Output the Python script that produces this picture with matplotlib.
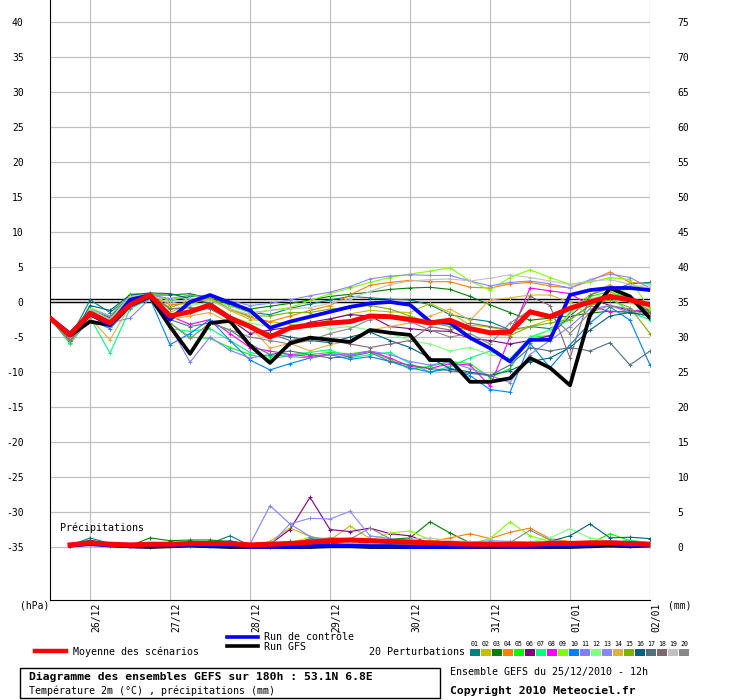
import numpy as np
import matplotlib
matplotlib.use('Agg')
import matplotlib.pyplot as plt
from matplotlib.lines import Line2D
from matplotlib.patches import Rectangle
from matplotlib.transforms import ScaledTranslation

# ---- data -------------------------------------------------------------
hours = np.arange(0, 181, 6)          # 25/12/2010 12h + 0..180h
phours = hours[1:]                    # precip steps

date_ticks = [12, 36, 60, 84, 108, 132, 156, 180]
date_labels = ['26/12', '27/12', '28/12', '29/12', '30/12', '31/12', '01/01', '02/01']

pert_colors = ['#008080', '#c0c000', '#008000', '#ff8000', '#00ff00', '#800080', '#00ff80',
               '#ff00ff', '#80ff00', '#0080ff', '#8080ff', '#80ff80', '#8888ff', '#e0b040',
               '#80b000', '#006080', '#507080', '#806870', '#c0c0c0', '#888888']

t_mean = [-2.3, -4.7, -1.6, -3.0, -0.4, 1.0, -2.0, -1.4, -0.4, -2.3, -3.5, -5.0, -3.7, -3.3, -3.0, -2.8,
          -2.0, -2.1, -2.5, -3.0, -2.6, -3.8, -4.4, -4.3, -1.4, -2.1, -0.9, 0.0, 0.8, 0.3, -0.4]
t_ctrl = [-2.3, -4.5, -1.7, -3.3, 0.3, 1.0, -2.5, 0.0, 1.0, -0.1, -1.2, -3.7, -2.8, -2.1, -1.4, -0.7,
          -0.2, 0.0, -0.4, -2.8, -3.0, -5.1, -6.6, -8.5, -5.4, -5.4, 1.0, 1.7, 2.0, 2.0, 1.7]
t_gfs = [-2.3, -4.8, -2.8, -3.3, -0.5, 0.8, -3.5, -7.4, -3.0, -2.7, -6.2, -8.7, -5.9, -5.1, -5.4, -5.7,
         -4.0, -4.4, -4.7, -8.3, -8.3, -11.4, -11.4, -10.9, -8.0, -9.4, -11.9, -1.9, 2.0, 0.8, -2.3]

t_p01 = [-2.3, -5.2, 0.3, -1.5, 0.8, 1.2, 0.2, 0.8, 0.9, -0.5, -1.5, -1.8, -0.9, -0.3, 0.3, 0.8,
         0.6, 0.4, 0.3, -0.4, -1.8, -2.4, -2.8, -4.0, -3.5, -3.8, -2.5, -0.5, 1.5, 2.6, 2.8]
t_p02 = [-2.3, -5.5, -1.8, -3.0, 0.2, 0.9, -1.5, -0.2, 0.4, -1.2, -2.5, -2.8, -3.2, -3.5, -2.5, -1.7,
         -1.2, -1.4, -1.5, -0.2, -1.5, -3.3, -3.6, -4.2, -3.5, -2.5, -1.0, 1.0, 2.5, 0.5, -2.3]
t_p03 = [-2.3, -5.0, -1.2, -2.2, 1.0, 1.0, 1.0, 1.2, 0.5, -0.3, -1.0, -0.6, -0.2, 0.3, 0.8, 1.1,
         1.4, 1.8, 2.0, 2.1, 1.8, 0.8, -0.4, -1.5, -2.6, -2.3, -2.0, -1.6, -1.3, -1.5, -1.2]
t_p04 = [-2.3, -5.3, -1.5, -2.5, 0.6, 1.1, -0.4, -0.2, 0.5, -1.0, -2.2, -2.8, -2.0, -1.2, -0.5, 1.0,
         2.4, 2.8, 3.1, 2.9, 2.9, 2.1, 2.0, 2.6, 2.8, 2.3, 2.0, 3.0, 4.3, 2.8, 2.6]
t_p05 = [-2.3, -5.6, -2.0, -3.2, -0.2, 0.8, -3.0, -5.0, -5.2, -6.5, -7.5, -8.2, -7.6, -7.5, -7.2, -7.4,
         -7.0, -8.2, -9.6, -9.2, -8.5, -8.8, -10.8, -9.5, -5.0, -4.8, -1.5, 0.8, 1.5, 0.5, -1.2]
t_p06 = [-2.3, -5.3, -1.8, -2.8, 0.5, 0.9, -1.8, -1.5, -0.8, -2.5, -4.5, -4.0, -3.6, -2.9, -2.4, -1.8,
         -2.0, -3.5, -3.8, -4.1, -4.2, -5.2, -5.5, -6.0, -5.5, -4.8, -2.0, 0.5, -0.5, -1.2, -1.5]
t_p07 = [-2.3, -6.0, -2.2, -7.3, -1.0, 0.5, -3.8, -4.2, -3.8, -5.5, -7.2, -7.8, -7.5, -7.2, -6.8, -8.0,
         -7.5, -7.2, -8.8, -10.0, -9.2, -8.0, -7.0, -8.2, -5.0, -4.0, -2.5, -0.5, 0.8, -1.5, -2.5]
t_p08 = [-2.3, -5.5, -2.0, -3.0, 0.3, 0.8, -2.0, -3.2, -2.5, -4.5, -6.5, -7.0, -7.5, -7.8, -7.4, -7.6,
         -7.0, -8.0, -9.2, -9.5, -8.8, -9.0, -12.0, -5.0, 2.0, 1.6, 1.2, -0.5, -1.4, -1.3, -1.0]
t_p09 = [-2.3, -5.0, -0.8, -2.0, 1.2, 1.2, 0.2, 1.0, 0.4, -0.6, -1.5, -1.2, -0.8, 0.2, 1.2, 2.0,
         2.8, 3.5, 4.0, 4.4, 4.9, 3.0, 1.7, 3.5, 4.6, 3.5, 2.5, 2.8, 3.5, 3.2, -1.0]
t_p10 = [-2.3, -5.8, -2.5, -3.8, -0.8, 0.5, -6.1, -4.5, -2.5, -5.5, -8.3, -9.7, -8.8, -8.0, -7.5, -8.2,
         -7.8, -8.5, -9.4, -10.0, -9.5, -10.5, -12.5, -12.9, -5.9, -9.4, -6.1, -3.0, -0.7, -2.6, -9.0]
t_p11 = [-2.3, -5.5, -1.5, -3.0, -2.3, 0.5, -3.5, -8.6, -5.0, -6.9, -8.0, -7.5, -7.8, -8.0, -7.5, -7.6,
         -7.0, -7.5, -8.5, -9.0, -8.6, -9.5, -10.5, -11.5, -7.5, -5.5, -3.5, -1.0, -0.5, -1.5, -2.0]
t_p12 = [-2.3, -5.0, -1.0, -2.6, 0.9, 1.1, -1.0, -0.5, 0.0, -2.0, -3.0, -3.5, -2.8, -3.2, -3.8, -3.5,
         -4.0, -4.5, -5.5, -6.0, -7.0, -6.5, -7.5, -8.0, -5.3, -4.0, -1.8, 0.5, 1.0, 2.0, 2.5]
t_p13 = [-2.3, -4.8, -1.0, -2.0, 0.8, 1.0, 0.5, 1.0, 0.6, 0.2, -0.5, -0.2, 0.3, 0.9, 1.4, 2.2,
         3.3, 3.7, 3.9, 3.8, 3.8, 3.0, 2.3, 2.8, 3.0, 2.6, 2.0, 3.2, 4.0, 3.5, 2.0]
t_p14 = [-2.3, -5.8, -2.3, -5.4, -0.5, 0.7, -2.5, -2.0, -1.5, -3.0, -3.5, -6.6, -5.9, -7.0, -6.1, -5.5,
         -4.0, -3.5, -3.0, -2.0, -1.0, -2.6, 0.3, 0.6, 1.0, 1.0, 0.0, -2.0, 1.5, 0.0, -1.5]
t_p15 = [-2.3, -5.2, -1.2, -2.4, 0.7, 1.0, -0.8, 0.2, 0.6, -1.0, -2.0, -2.0, -1.5, -1.5, -1.0, -0.8,
         -0.5, -1.0, -2.0, -3.0, -3.5, -4.0, -4.5, -4.8, -3.5, -3.0, -2.5, -0.5, 0.3, -0.8, -4.5]
t_p16 = [-2.3, -5.5, -0.5, -1.2, 1.0, 1.3, 1.2, 0.5, -0.2, -2.0, -3.5, -4.5, -5.0, -5.5, -5.8, -5.0,
         -4.3, -5.5, -6.5, -8.0, -9.5, -10.0, -10.5, -9.8, -8.5, -8.0, -6.5, -4.0, -2.0, -1.5, -2.0]
t_p17 = [-2.3, -5.6, -2.0, -3.2, 0.0, 0.8, -2.5, -3.5, -3.0, -4.0, -6.0, -7.5, -7.0, -7.5, -8.0, -7.8,
         -7.2, -8.5, -9.0, -9.5, -9.8, -10.2, -10.5, -9.0, -6.5, -7.0, -6.5, -7.0, -5.8, -9.0, -7.0]
t_p18 = [-2.3, -5.4, -1.6, -2.8, 0.4, 1.0, -1.0, -0.8, -1.0, -2.5, -3.5, -4.5, -5.5, -5.0, -5.5, -6.0,
         -6.5, -6.0, -5.5, -3.5, -4.0, -3.0, -3.5, -4.0, 0.8, -0.5, -8.0, 1.0, 2.0, 0.5, -1.5]
t_p19 = [-2.3, -5.0, -1.0, -2.5, 0.8, 1.1, -0.2, 0.5, 0.2, -1.0, -1.8, -1.2, -1.0, -0.8, -0.2, 0.5,
         1.5, 2.5, 3.0, 3.2, 3.3, 3.0, 3.4, 3.9, 3.5, 3.0, 2.5, 3.0, 3.2, 2.5, 2.0]
t_p20 = [-2.3, -5.5, -1.8, -3.5, 0.0, 0.8, -3.0, -5.2, -3.0, -4.0, -5.0, -5.5, -6.0, -5.5, -4.5, -3.8,
         -2.5, -2.0, -2.8, -4.0, -5.0, -4.5, -6.0, -3.0, -1.2, -1.8, -4.5, -1.5, -0.5, -1.0, -2.0]

# precipitation (mm), 6-hourly, from +6h to +180h
p_mean = [0.3, 0.6, 0.4, 0.3, 0.4, 0.4, 0.5, 0.5, 0.5, 0.3, 0.4, 0.5, 0.7, 0.9, 1.0, 0.9,
          0.8, 0.7, 0.6, 0.5, 0.4, 0.4, 0.4, 0.4, 0.5, 0.5, 0.6, 0.6, 0.5, 0.4]
p_ctrl = [0.2, 0.4, 0.2, 0.1, 0.1, 0.2, 0.3, 0.2, 0.2, 0.0, 0.0, 0.0, 0.1, 0.2, 0.2, 0.1,
          0.1, 0.0, 0.0, 0.0, 0.0, 0.1, 0.0, 0.0, 0.1, 0.1, 0.3, 0.4, 0.2, 0.3]
p_gfs = [0.2, 0.5, 0.3, 0.1, 0.0, 0.1, 0.2, 0.1, 0.0, 0.0, 0.0, 0.0, 0.0, 0.1, 0.1, 0.0,
         0.0, 0.0, 0.0, 0.0, 0.0, 0.0, 0.0, 0.0, 0.0, 0.0, 0.1, 0.2, 0.1, 0.2]

p_p01 = [0.2, 1.3, 0.5, 0.2, 0.1, 0.5, 0.6, 0.5, 1.6, 0.2, 0.1, 0.3, 1.2, 1.0, 0.8, 0.9,
         0.7, 0.5, 0.3, 0.2, 0.3, 0.2, 0.1, 0.2, 0.3, 0.2, 0.5, 0.6, 0.8, 0.6]
p_p02 = [0.2, 0.5, 0.3, 0.1, 0.2, 0.3, 0.2, 0.3, 0.2, 0.1, 0.8, 2.7, 1.5, 1.0, 3.0, 1.2,
         0.5, 0.3, 0.2, 0.1, 0.2, 0.4, 0.3, 0.2, 0.5, 0.3, 0.8, 0.6, 0.3, 0.2]
p_p03 = [0.2, 0.4, 0.3, 0.2, 1.3, 0.9, 1.0, 1.0, 0.8, 0.2, 0.3, 0.8, 0.6, 0.8, 0.7, 1.0,
         1.1, 1.3, 3.6, 2.0, 0.6, 0.2, 0.1, 0.2, 0.3, 0.2, 0.4, 0.3, 0.5, 0.4]
p_p04 = [0.2, 0.6, 0.3, 0.1, 0.1, 0.4, 0.4, 0.3, 0.4, 0.1, 0.1, 0.3, 0.6, 0.5, 0.4, 0.3,
         0.6, 0.5, 0.8, 1.3, 1.9, 1.2, 2.1, 2.7, 1.2, 0.8, 0.4, 0.3, 0.2, 0.3]
p_p05 = [0.2, 0.5, 0.2, 0.1, 0.2, 0.3, 0.3, 0.4, 0.3, 0.0, 0.1, 0.3, 0.7, 1.3, 1.2, 0.6,
         0.5, 0.4, 0.4, 0.3, 0.2, 0.3, 0.2, 0.3, 0.4, 0.6, 0.5, 1.9, 0.9, 0.5]
p_p06 = [0.2, 0.5, 0.3, 0.1, 0.1, 0.3, 0.4, 0.5, 0.3, 0.0, 0.4, 2.5, 7.1, 2.5, 2.2, 2.7,
         1.9, 1.6, 0.5, 0.3, 0.2, 0.2, 0.3, 0.2, 0.3, 0.2, 0.4, 0.3, 0.2, 0.3]
p_p07 = [0.2, 0.4, 0.2, 0.1, 0.1, 0.2, 0.3, 0.4, 0.4, 0.1, 0.2, 0.5, 0.9, 0.8, 0.6, 0.7,
         0.9, 0.8, 0.5, 0.3, 0.2, 0.2, 0.3, 0.4, 0.3, 0.5, 0.4, 0.5, 1.0, 0.6]
p_p08 = [0.2, 0.5, 0.3, 0.2, 0.2, 0.4, 0.3, 0.5, 0.7, 0.1, 0.2, 0.4, 0.8, 0.6, 0.7, 0.5,
         0.4, 0.3, 0.2, 0.2, 0.6, 0.5, 0.3, 0.2, 0.3, 0.3, 0.2, 0.4, 0.3, 0.2]
p_p09 = [0.2, 0.4, 0.2, 0.1, 0.3, 0.4, 0.3, 0.4, 0.3, 0.0, 0.1, 0.6, 1.4, 1.2, 1.1, 1.0,
         2.0, 2.3, 1.0, 0.5, 0.4, 1.2, 3.6, 1.6, 0.8, 0.4, 0.3, 0.5, 0.4, 0.3]
p_p10 = [0.2, 0.3, 0.2, 0.1, 0.1, 0.2, 0.2, 0.2, 0.1, 0.0, 0.1, 0.2, 0.5, 0.4, 0.3, 0.2,
         0.2, 0.1, 0.1, 0.1, 0.1, 0.2, 0.1, 0.1, 0.3, 0.4, 0.5, 0.4, 0.3, 0.6]
p_p11 = [0.2, 0.4, 0.2, 0.1, 0.1, 0.3, 0.4, 0.3, 0.3, 0.4, 5.9, 3.3, 1.5, 0.8, 0.6, 0.5,
         0.4, 0.3, 0.3, 0.2, 0.2, 0.3, 0.4, 0.3, 0.2, 0.3, 0.5, 0.4, 0.6, 0.5]
p_p12 = [0.2, 0.5, 0.3, 0.1, 0.2, 0.3, 0.4, 0.3, 0.3, 0.1, 0.2, 0.5, 0.6, 0.8, 0.7, 0.6,
         0.5, 0.4, 0.3, 0.3, 0.2, 0.3, 0.4, 0.7, 1.3, 2.6, 1.3, 0.8, 0.5, 0.4]
p_p13 = [0.2, 0.4, 0.2, 0.2, 0.1, 0.2, 0.3, 0.3, 0.2, 0.0, 0.3, 3.3, 4.1, 4.0, 5.1, 1.6,
         1.2, 0.8, 0.6, 0.4, 0.7, 0.9, 0.8, 0.7, 0.4, 0.5, 0.6, 0.9, 0.7, 0.4]
p_p14 = [0.2, 0.6, 0.3, 0.1, 0.2, 0.3, 0.3, 0.4, 0.2, 0.0, 0.1, 0.4, 0.7, 0.9, 1.2, 1.0,
         0.8, 0.6, 0.4, 0.3, 0.2, 0.3, 0.5, 0.4, 0.6, 0.3, 0.2, 0.5, 0.3, 0.2]
p_p15 = [0.2, 0.5, 0.3, 0.2, 0.4, 0.3, 0.4, 0.6, 0.5, 0.1, 0.2, 0.6, 0.9, 1.0, 0.8, 0.7,
         0.6, 0.5, 0.4, 0.3, 0.3, 0.4, 0.3, 0.5, 0.6, 0.4, 0.5, 0.7, 0.5, 0.4]
p_p16 = [0.2, 1.0, 0.4, 0.1, 0.0, 0.3, 0.6, 0.4, 0.9, 0.3, 0.0, 0.1, 0.4, 0.5, 0.3, 0.2,
         0.5, 0.3, 0.2, 0.1, 0.2, 0.3, 0.5, 0.3, 0.8, 1.6, 3.3, 1.3, 1.4, 1.2]
p_p17 = [0.2, 0.4, 0.2, 0.1, 0.1, 0.2, 0.3, 0.3, 0.2, 0.0, 0.1, 0.3, 0.5, 0.4, 0.3, 0.3,
         0.4, 0.3, 0.2, 0.2, 0.3, 0.2, 0.3, 0.4, 0.5, 0.4, 0.3, 0.5, 0.4, 0.3]
p_p18 = [0.2, 0.5, 0.3, 0.2, 0.1, 0.3, 0.4, 0.3, 0.3, 0.1, 0.2, 0.5, 0.9, 1.1, 0.9, 1.0,
         0.7, 0.5, 0.4, 0.3, 0.3, 0.4, 0.6, 0.5, 0.4, 0.3, 0.5, 0.4, 0.6, 0.5]
p_p19 = [0.2, 0.4, 0.2, 0.1, 0.1, 0.2, 0.3, 0.3, 0.3, 0.0, 0.1, 0.4, 0.6, 0.7, 0.6, 0.9,
         1.0, 1.1, 1.3, 0.9, 0.8, 0.6, 0.5, 0.4, 0.3, 0.6, 0.5, 0.4, 0.3, 0.2]
p_p20 = [0.2, 0.5, 0.3, 0.1, 0.1, 0.3, 0.4, 0.3, 0.3, 0.0, 0.2, 0.5, 1.0, 1.3, 1.1, 2.7,
         1.2, 0.8, 0.5, 0.4, 0.3, 0.4, 0.6, 2.4, 1.0, 0.7, 0.6, 0.5, 0.4, 0.3]

t_perts = [t_p01, t_p02, t_p03, t_p04, t_p05, t_p06, t_p07, t_p08, t_p09, t_p10,
           t_p11, t_p12, t_p13, t_p14, t_p15, t_p16, t_p17, t_p18, t_p19, t_p20]
p_perts = [p_p01, p_p02, p_p03, p_p04, p_p05, p_p06, p_p07, p_p08, p_p09, p_p10,
           p_p11, p_p12, p_p13, p_p14, p_p15, p_p16, p_p17, p_p18, p_p19, p_p20]

# precip drawn on the temperature scale: 0 mm sits at -35
p_base = -35

# ---- figure -----------------------------------------------------------
W, H = 740, 700
mono = 'DejaVu Sans Mono'
plt.rcParams['font.family'] = mono

fig = plt.figure(figsize=(W/100, H/100), dpi=100)
ax = fig.add_axes([50/W, 100/H, 600/W, 600/H])
ax.set_xlim(0, 180)
ax.set_ylim((302-600)/7.0, 302/7.0)

ax.set_yticks(np.arange(-35, 41, 5))
ax.set_yticklabels([str(v) for v in range(-35, 41, 5)], fontsize=7)
ax.set_xticks(date_ticks)
ax.set_xticklabels(date_labels, rotation=90, fontsize=7, va='top', ha='center')
ax.tick_params(length=0, pad=19, axis='y')
ax.tick_params(length=0, pad=2, axis='x')
for lab in ax.get_xticklabels():
    lab.set_transform(lab.get_transform() + ScaledTranslation(6/100, 0, fig.dpi_scale_trans))
ax.grid(True, color='#c0c0c0', lw=0.9)
ax.set_axisbelow(True)
for s in ['top', 'right']:
    ax.spines[s].set_visible(False)
ax.spines['left'].set_color('black')
ax.spines['bottom'].set_color('black')

ax2 = ax.twinx()
ax2.set_ylim(ax.get_ylim())
ax2.set_yticks(np.arange(-35, 41, 5))
ax2.set_yticklabels([str(v + 35) for v in range(-35, 41, 5)], fontsize=7)
ax2.tick_params(length=0, pad=20)
for s in ax2.spines.values():
    s.set_visible(False)

# zero line (double black)
ax.axhline(0, color='black', lw=1, zorder=2)
ax.axhline(0.43, color='black', lw=1, zorder=2)

for k in range(20):
    ax.plot(hours, t_perts[k], color=pert_colors[k], lw=0.8, marker='+', ms=3, mew=0.7, zorder=3)
    ax.plot(phours, np.array(p_perts[k]) + p_base, color=pert_colors[k], lw=0.8,
            marker='+', ms=3, mew=0.7, zorder=3)

ax.plot(hours, t_gfs, color='black', lw=2.7, zorder=4)
ax.plot(phours, np.array(p_gfs) + p_base, color='black', lw=2.7, zorder=4)
ax.plot(hours, t_ctrl, color='#0000ff', lw=2.7, zorder=5)
ax.plot(phours, np.array(p_ctrl) + p_base, color='#0000ff', lw=2.7, zorder=5)
ax.plot(hours, t_mean, color='#ff0000', lw=3.6, zorder=6)
ax.plot(phours, np.array(p_mean) + p_base, color='#ff0000', lw=3.6, zorder=6)

ax.text(3, p_base + 2.7, 'Précipitations', fontsize=7.2, ha='left', va='center', zorder=7)


def fx(x):
    return x / W


def fy(y):
    return 1 - y / H


fig.text(fx(20), fy(606), '(hPa)', fontsize=7, va='center', ha='left')
fig.text(fx(668), fy(606), '(mm)', fontsize=7, va='center', ha='left')

# legend
fig.add_artist(Line2D([fx(35), fx(66)], [fy(651), fy(651)], color='#ff0000', lw=3.2))
fig.text(fx(73), fy(652), 'Moyenne des scénarios', fontsize=7.2, va='center')
fig.add_artist(Line2D([fx(227), fx(258)], [fy(637), fy(637)], color='#0000ff', lw=2.6))
fig.text(fx(264), fy(637), 'Run de contrôle', fontsize=7.2, va='center')
fig.add_artist(Line2D([fx(227), fx(258)], [fy(646), fy(646)], color='black', lw=2.6))
fig.text(fx(264), fy(647), 'Run GFS', fontsize=7.2, va='center')
fig.text(fx(369), fy(652), '20 Perturbations', fontsize=7.2, va='center')
for k in range(20):
    x0 = 470 + 11 * k
    fig.add_artist(Rectangle((fx(x0), fy(656)), 10/W, 7/H, transform=fig.transFigure,
                             facecolor=pert_colors[k], edgecolor='none'))
    fig.text(fx(x0 + 5), fy(644), '%02d' % (k + 1), fontsize=4.8, ha='center', va='center')

# bottom box
fig.add_artist(Rectangle((fx(20), fy(698)), 420/W, 30/H, transform=fig.transFigure,
                         facecolor='white', edgecolor='black', lw=1))
fig.text(fx(29), fy(677), 'Diagramme des ensembles GEFS sur 180h : 53.1N 6.8E',
         fontsize=8.2, fontweight='bold', va='center')
fig.text(fx(29), fy(691), 'Température 2m (°C) , précipitations (mm)', fontsize=7.2, va='center')
fig.text(fx(450), fy(672), 'Ensemble GEFS du 25/12/2010 - 12h', fontsize=7.2, va='center')
fig.text(fx(450), fy(691), 'Copyright 2010 Meteociel.fr', fontsize=8.2, fontweight='bold', va='center')

fig.savefig('out.png', dpi=100)
